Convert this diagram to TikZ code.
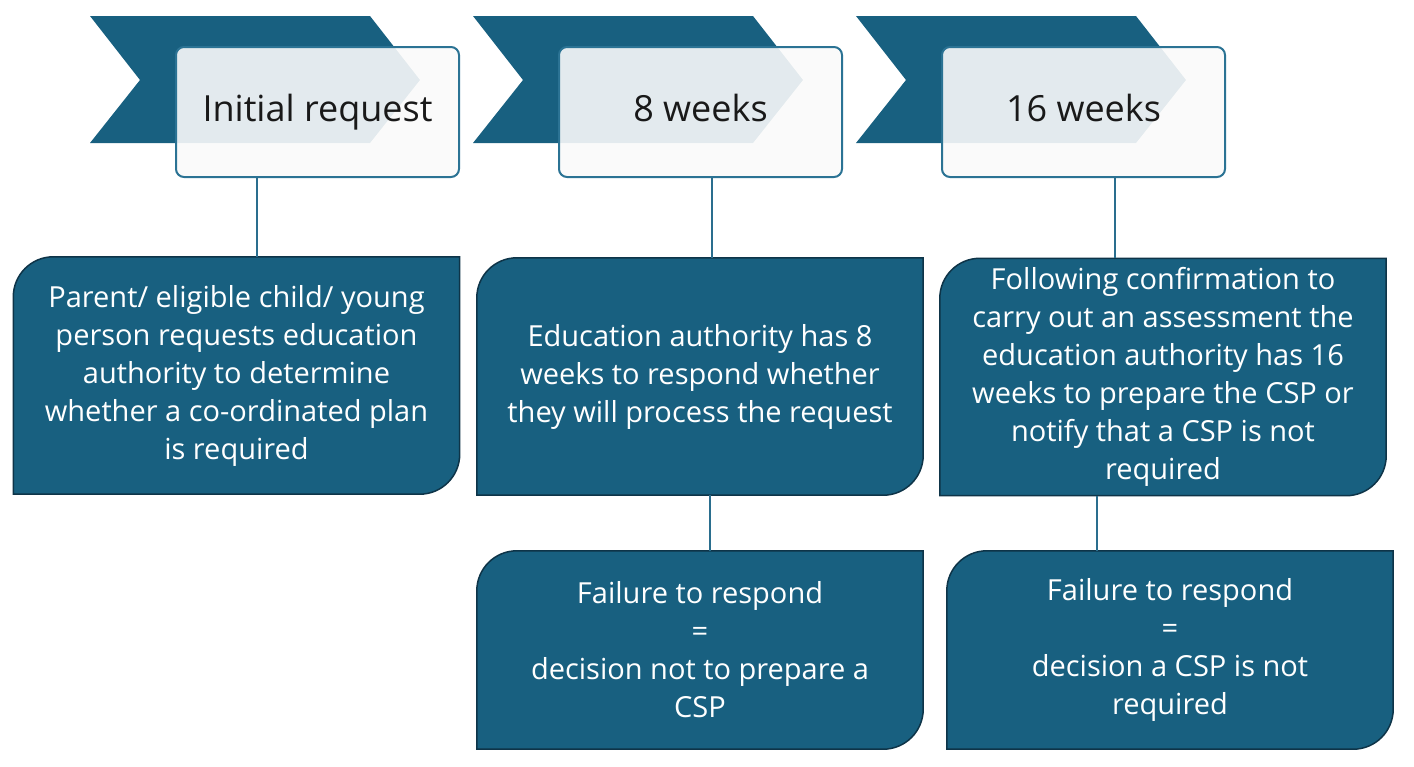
\documentclass[tikz,border=0pt]{standalone}
\usepackage{fontspec}
\setmainfont{Open Sans}
\usetikzlibrary{backgrounds}

\definecolor{stageteal}{RGB}{24,96,128}
\definecolor{leafedge}{RGB}{14,52,72}
\definecolor{linkteal}{RGB}{42,110,142}
\definecolor{capedge}{RGB}{43,115,148}
\definecolor{capfill}{RGB}{250,250,250}

\newcommand{\headfont}{\fontsize{36}{43}\selectfont}
\newcommand{\leaffont}{\fontsize{29}{38}\selectfont}
\newcommand{\leafshape}[1]{%
  \draw[leafline] (#1.south west) -- ([yshift=-40pt]#1.north west)
    arc[start angle=180, end angle=90, radius=40pt] -- (#1.north east)
    -- ([yshift=40pt]#1.south east)
    arc[start angle=0, end angle=-90, radius=40pt] -- cycle;}

\tikzset{
  chevron/.style={fill=stageteal},
  stagebox/.style={draw=capedge, line width=2pt, fill=capfill, fill opacity=.9,
    text opacity=1, rounded corners=8pt, minimum width=283pt, minimum height=130pt,
    font=\headfont, text=black!90, text height=27pt, text depth=8pt},
  leafbox/.style={minimum width=446pt, text=white, align=center, font=\leaffont},
  leafline/.style={fill=stageteal, draw=leafedge, line width=1.5pt},
  link/.style={draw=linkteal, line width=2pt}
}

\begin{document}
\begin{tikzpicture}[x=1pt,y=1pt]
  \useasboundingbox (0,0) rectangle (1414,-766);
  % stage arrows
  \foreach \x in {0,383,766}
    \fill[chevron] (90+\x,-16) -- (370+\x,-16) -- (420+\x,-80) -- (370+\x,-143)
      -- (90+\x,-143) -- (140+\x,-80) -- cycle;
  \node[stagebox] (initial) at (317.5,-112) {Initial request};
  \node[stagebox] (eight) at (700.5,-112) {8 weeks};
  \node[stagebox] (sixteen) at (1083.5,-112) {16 weeks};
  % steps
  \node[leafbox, minimum height=237pt] (request) at (236.5,-375.5)
    {Parent/ eligible child/ young\\person requests education\\authority to determine\\whether a co-ordinated plan\\is required};
  \node[leafbox, minimum height=237pt] (respond) at (700,-376.5)
    {Education authority has 8\\weeks to respond whether\\they will process the request};
  \node[leafbox, minimum height=237pt] (prepare) at (1163,-377)
    {Following confirmation to\\carry out an assessment the\\education authority has 16\\weeks to prepare the CSP or\\notify that a CSP is not\\required};
  \node[leafbox, minimum height=198pt] (noreply) at (700,-650)
    {Failure to respond\\=\\decision not to prepare a\\CSP};
  \node[leafbox, minimum height=198pt] (nocsp) at (1170,-650)
    {Failure to respond\\=\\decision a CSP is not\\required};
  \begin{pgfonlayer}{background}
    \foreach \n in {request,respond,prepare,noreply,nocsp}
      \leafshape{\n};
  \end{pgfonlayer}
  % connectors
  \draw[link] ([xshift=-60.5pt]initial.south) -- ([xshift=-60.5pt]initial.south |- request.north);
  \draw[link] ([xshift=11.5pt]eight.south) -- ([xshift=11.5pt]eight.south |- respond.north);
  \draw[link] ([xshift=31.5pt]sixteen.south) -- ([xshift=31.5pt]sixteen.south |- prepare.north);
  \draw[link] ([xshift=10pt]respond.south) -- ([xshift=10pt]respond.south |- noreply.north);
  \draw[link] ([xshift=-66pt]prepare.south) -- ([xshift=-66pt]prepare.south |- nocsp.north);
\end{tikzpicture}
\end{document}
